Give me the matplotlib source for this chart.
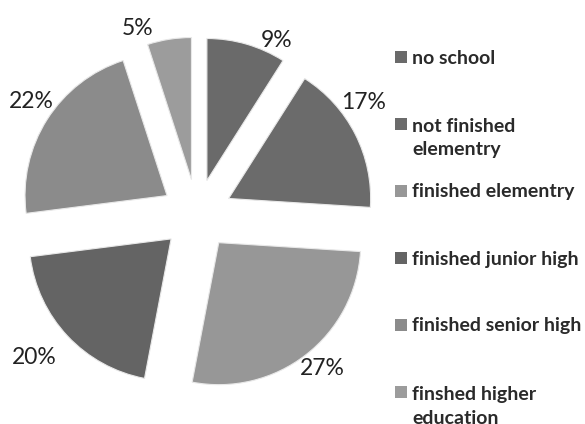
import matplotlib
matplotlib.use('agg')
import matplotlib.pyplot as plt
from matplotlib.patches import Rectangle

plt.rc('font', family=['Lato', 'DejaVu Sans'])

# education level shares, clockwise from 12 o'clock
categories = ['no school', 'not finished\nelementry', 'finished elementry',
              'finished junior high', 'finished senior high',
              'finshed higher\neducation']
shares = [9, 17, 27, 20, 22, 5]
colors = ['#6a6a6a', '#6b6b6b', '#979797', '#646464', '#8b8b8b', '#9c9c9c']

# where each percentage sits (data units, pie radius = 1)
label_pos = [(0.563, 1.229), (1.176, 0.786), (0.880, -1.087),
             (-1.148, -1.003), (-1.169, 0.793), (-0.415, 1.314)]

W, H = 585, 424
fig = plt.figure(figsize=(W / 100, H / 100), dpi=100)
fig.patch.set_facecolor('white')

# pie axes spanning the figure, 142 px per unit, centre at (197, 214.6) px
scale = 142.0
cx, cy = 197.0, 214.6
ax = fig.add_axes([0, 0, 1, 1])

wedges, texts, autotexts = ax.pie(
    shares, colors=colors, startangle=90, counterclock=False,
    explode=[0.25] * len(shares), radius=1.0, center=(0, 0),
    autopct='%d%%', pctdistance=1.2,
    wedgeprops=dict(edgecolor='#e8e8e8', linewidth=0.8),
    textprops=dict(fontsize=16.5, color='#222222'), frame=True)
ax.set_xlim(-cx / scale, (W - cx) / scale)
ax.set_ylim(-(H - cy) / scale, cy / scale)
ax.set_aspect('auto')
ax.axis('off')
for t, (x, y) in zip(autotexts, label_pos):
    t.set_position((x, y))
    t.set_ha('center')
    t.set_va('center')

# legend drawn in pixel coordinates
lax = fig.add_axes([0, 0, 1, 1])
lax.set_xlim(0, W)
lax.set_ylim(H, 0)
lax.axis('off')
row_y = [57 + 67 * i for i in range(len(categories))]
line_step = 25
for name, col, y in zip(categories, colors, row_y):
    lax.add_patch(Rectangle((395, y - 6), 12, 12, facecolor=col, edgecolor='none'))
    extra = name.count('\n') * line_step   # baseline anchors the last line
    lax.text(412, y + 6.5 + extra, name, ha='left', va='baseline', fontsize=14,
             fontweight='bold', color='#2a2a2a', linespacing=1.45)

fig.savefig('out.png', dpi=100)
